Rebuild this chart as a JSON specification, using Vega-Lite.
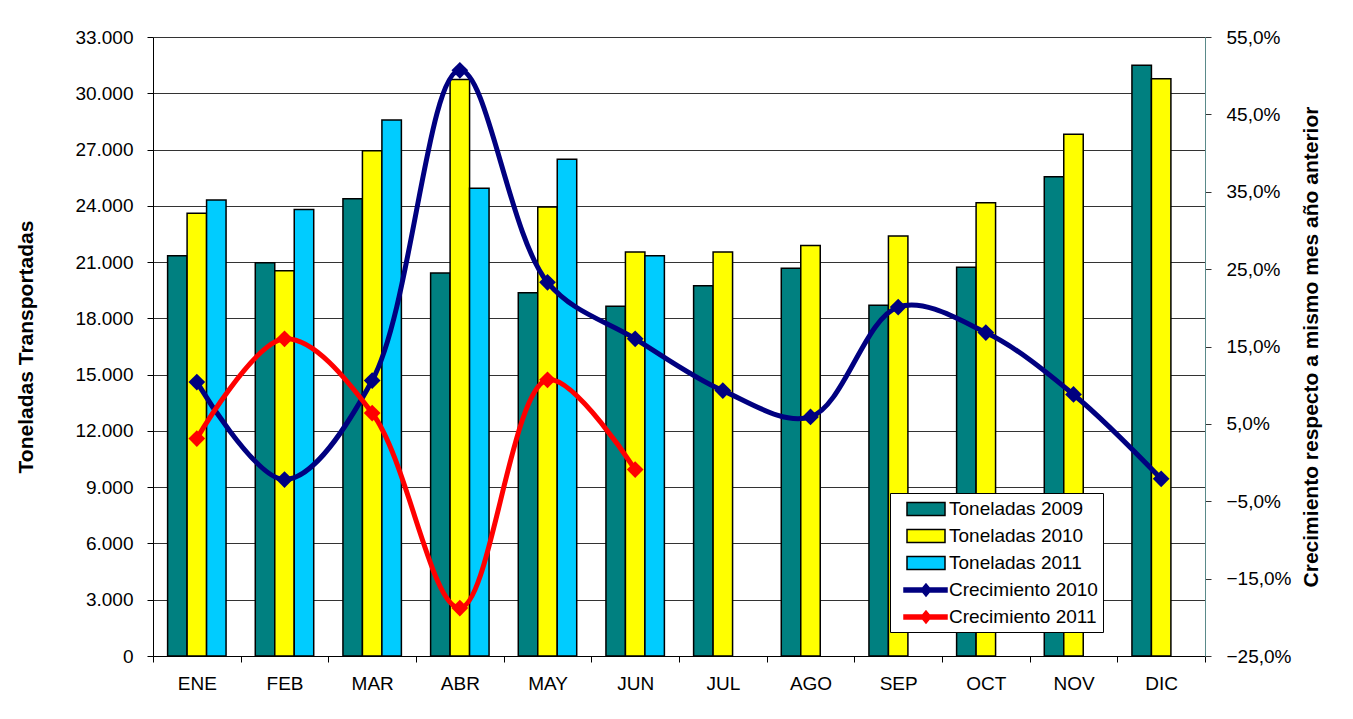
{
  "$schema": "https://vega.github.io/schema/vega-lite/v6.json",
  "width": 1052,
  "height": 619,
  "autosize": {"type": "none"},
  "padding": {"left": 153, "top": 37, "right": 148, "bottom": 63},
  "background": "white",
  "config": {
    "locale": {"number": {"decimal": ",", "thousands": ".", "grouping": [3], "currency": ["", " €"]}},
    "font": "Liberation Sans",
    "view": {"fill": "#FBEED9", "stroke": "#CCFFFF", "strokeWidth": 1},
    "axis": {"labelFont": "Liberation Sans", "titleFont": "Liberation Sans", "labelColor": "black", "titleColor": "black"},
    "legend": {"symbolOpacity": 1, "symbolStrokeWidth": 1.5}
  },
  "datasets": {
    "ton": [
      {"mes": "ENE", "serie": "Toneladas 2009", "ton": 21340},
      {"mes": "ENE", "serie": "Toneladas 2010", "ton": 23600},
      {"mes": "ENE", "serie": "Toneladas 2011", "ton": 24310},
      {"mes": "FEB", "serie": "Toneladas 2009", "ton": 20970},
      {"mes": "FEB", "serie": "Toneladas 2010", "ton": 20540},
      {"mes": "FEB", "serie": "Toneladas 2011", "ton": 23810},
      {"mes": "MAR", "serie": "Toneladas 2009", "ton": 24380},
      {"mes": "MAR", "serie": "Toneladas 2010", "ton": 26940},
      {"mes": "MAR", "serie": "Toneladas 2011", "ton": 28570},
      {"mes": "ABR", "serie": "Toneladas 2009", "ton": 20420},
      {"mes": "ABR", "serie": "Toneladas 2010", "ton": 30740},
      {"mes": "ABR", "serie": "Toneladas 2011", "ton": 24930},
      {"mes": "MAY", "serie": "Toneladas 2009", "ton": 19370},
      {"mes": "MAY", "serie": "Toneladas 2010", "ton": 23940},
      {"mes": "MAY", "serie": "Toneladas 2011", "ton": 26480},
      {"mes": "JUN", "serie": "Toneladas 2009", "ton": 18640},
      {"mes": "JUN", "serie": "Toneladas 2010", "ton": 21540},
      {"mes": "JUN", "serie": "Toneladas 2011", "ton": 21340},
      {"mes": "JUL", "serie": "Toneladas 2009", "ton": 19740},
      {"mes": "JUL", "serie": "Toneladas 2010", "ton": 21540},
      {"mes": "AGO", "serie": "Toneladas 2009", "ton": 20670},
      {"mes": "AGO", "serie": "Toneladas 2010", "ton": 21890},
      {"mes": "SEP", "serie": "Toneladas 2009", "ton": 18700},
      {"mes": "SEP", "serie": "Toneladas 2010", "ton": 22390},
      {"mes": "OCT", "serie": "Toneladas 2009", "ton": 20720},
      {"mes": "OCT", "serie": "Toneladas 2010", "ton": 24170},
      {"mes": "NOV", "serie": "Toneladas 2009", "ton": 25550},
      {"mes": "NOV", "serie": "Toneladas 2010", "ton": 27810},
      {"mes": "DIC", "serie": "Toneladas 2009", "ton": 31490},
      {"mes": "DIC", "serie": "Toneladas 2010", "ton": 30780}
    ],
    "crec": [
      {"mes": "ENE", "serie": "Crecimiento 2010", "crec": 0.104},
      {"mes": "FEB", "serie": "Crecimiento 2010", "crec": -0.022},
      {"mes": "MAR", "serie": "Crecimiento 2010", "crec": 0.106},
      {"mes": "ABR", "serie": "Crecimiento 2010", "crec": 0.507},
      {"mes": "MAY", "serie": "Crecimiento 2010", "crec": 0.233},
      {"mes": "JUN", "serie": "Crecimiento 2010", "crec": 0.160},
      {"mes": "JUL", "serie": "Crecimiento 2010", "crec": 0.093},
      {"mes": "AGO", "serie": "Crecimiento 2010", "crec": 0.059},
      {"mes": "SEP", "serie": "Crecimiento 2010", "crec": 0.201},
      {"mes": "OCT", "serie": "Crecimiento 2010", "crec": 0.168},
      {"mes": "NOV", "serie": "Crecimiento 2010", "crec": 0.088},
      {"mes": "DIC", "serie": "Crecimiento 2010", "crec": -0.021},
      {"mes": "ENE", "serie": "Crecimiento 2011", "crec": 0.031},
      {"mes": "FEB", "serie": "Crecimiento 2011", "crec": 0.160},
      {"mes": "MAR", "serie": "Crecimiento 2011", "crec": 0.064},
      {"mes": "ABR", "serie": "Crecimiento 2011", "crec": -0.188},
      {"mes": "MAY", "serie": "Crecimiento 2011", "crec": 0.107},
      {"mes": "JUN", "serie": "Crecimiento 2011", "crec": -0.009}
    ]
  },
  "layer": [
    {
      "data": {"name": "ton"},
      "mark": {"type": "bar", "stroke": "black", "strokeWidth": 1.5, "opacity": 1},
      "encoding": {
        "x": {
          "field": "mes", "type": "nominal",
          "sort": ["ENE","FEB","MAR","ABR","MAY","JUN","JUL","AGO","SEP","OCT","NOV","DIC"],
          "scale": {"type": "band", "paddingInner": 0, "paddingOuter": 0},
          "axis": {"title": null, "labelAngle": 0, "labelFontSize": 19, "labelPadding": 12, "tickBand": "extent", "tickSize": 6, "tickColor": "black", "domainColor": "black", "domainWidth": 1, "grid": false}
        },
        "xOffset": {
          "field": "serie", "type": "nominal",
          "scale": {"domain": ["Toneladas 2009","Toneladas 2010","Toneladas 2011"], "paddingInner": 0, "paddingOuter": 0.75}
        },
        "y": {
          "field": "ton", "type": "quantitative",
          "scale": {"domain": [0, 33000], "nice": false},
          "axis": {
            "orient": "left", "title": "Toneladas Transportadas", "titleFontSize": 21, "titleFontWeight": "bold", "titlePadding": 38,
            "values": [0,3000,6000,9000,12000,15000,18000,21000,24000,27000,30000,33000],
            "format": ",d", "labelFontSize": 19, "labelPadding": 14, "tickSize": 6, "tickColor": "black",
            "domainColor": "black", "grid": true, "gridColor": "#333333", "gridWidth": 1
          }
        },
        "color": {
          "field": "serie", "type": "nominal",
          "scale": {
            "domain": ["Toneladas 2009","Toneladas 2010","Toneladas 2011","Crecimiento 2010","Crecimiento 2011"],
            "range": ["#008080","#FFFF00","#00CCFF","#000080","#FF0000"]
          },
          "legend": {
            "title": null, "orient": "none", "legendX": 737, "legendY": 456,
            "labelFontSize": 19, "labelFont": "Liberation Sans", "labelColor": "black",
            "symbolSize": 400, "labelOffset": 32, "rowPadding": 6, "padding": 5,
            "strokeColor": "black", "fillColor": "white", "symbolOpacity": 1
          }
        }
      }
    },
    {
      "data": {"name": "crec"},
      "layer": [
        {
          "mark": {"type": "line", "interpolate": "catmull-rom", "strokeWidth": 5},
          "encoding": {
            "x": {"field": "mes", "type": "nominal", "sort": ["ENE","FEB","MAR","ABR","MAY","JUN","JUL","AGO","SEP","OCT","NOV","DIC"], "scale": {"type": "band"}},
            "y": {
              "field": "crec", "type": "quantitative",
              "scale": {"domain": [-0.25, 0.55], "nice": false},
              "axis": {
                "orient": "right", "title": "Crecimiento respecto a mismo mes año anterior",
                "titleFontSize": 21, "titleFontWeight": "bold", "titleAngle": -90, "titleBaseline": "top", "titlePadding": 10,
                "values": [-0.25,-0.15,-0.05,0.05,0.15,0.25,0.35,0.45,0.55],
                "format": ".1%", "labelFontSize": 19, "labelPadding": 15, "tickSize": 6, "tickColor": "#333333",
                "domainColor": "#5A8A8A", "grid": false
              }
            },
            "stroke": {
              "field": "serie", "type": "nominal",
              "scale": {
                "domain": ["Toneladas 2009","Toneladas 2010","Toneladas 2011","Crecimiento 2010","Crecimiento 2011"],
                "range": ["black","black","black","#000080","#FF0000"]
              }
            }
          }
        },
        {
          "mark": {"type": "point", "shape": "diamond", "filled": true, "size": 280, "opacity": 1},
          "encoding": {
            "x": {"field": "mes", "type": "nominal", "sort": ["ENE","FEB","MAR","ABR","MAY","JUN","JUL","AGO","SEP","OCT","NOV","DIC"], "scale": {"type": "band"}},
            "y": {"field": "crec", "type": "quantitative"},
            "color": {"field": "serie", "type": "nominal"}
          }
        },
        {
          "mark": {"type": "point", "opacity": 0, "filled": false},
          "encoding": {
            "shape": {
              "field": "serie", "type": "nominal",
              "scale": {
                "domain": ["Toneladas 2009","Toneladas 2010","Toneladas 2011","Crecimiento 2010","Crecimiento 2011"],
                "range": ["M0.1,-0.65H3.9V0.65H0.1Z","M0.1,-0.65H3.9V0.65H0.1Z","M0.1,-0.65H3.9V0.65H0.1Z","M-0.2,-0.2H4.1V0.2H-0.2Z M2,-0.6L2.5,0L2,0.6L1.5,0Z","M-0.2,-0.2H4.1V0.2H-0.2Z M2,-0.6L2.5,0L2,0.6L1.5,0Z"]
              }
            },
            "stroke": {"field": "serie", "type": "nominal"}
          }
        }
      ]
    }
  ],
  "resolve": {"scale": {"y": "independent"}, "axis": {"y": "independent"}}
}
